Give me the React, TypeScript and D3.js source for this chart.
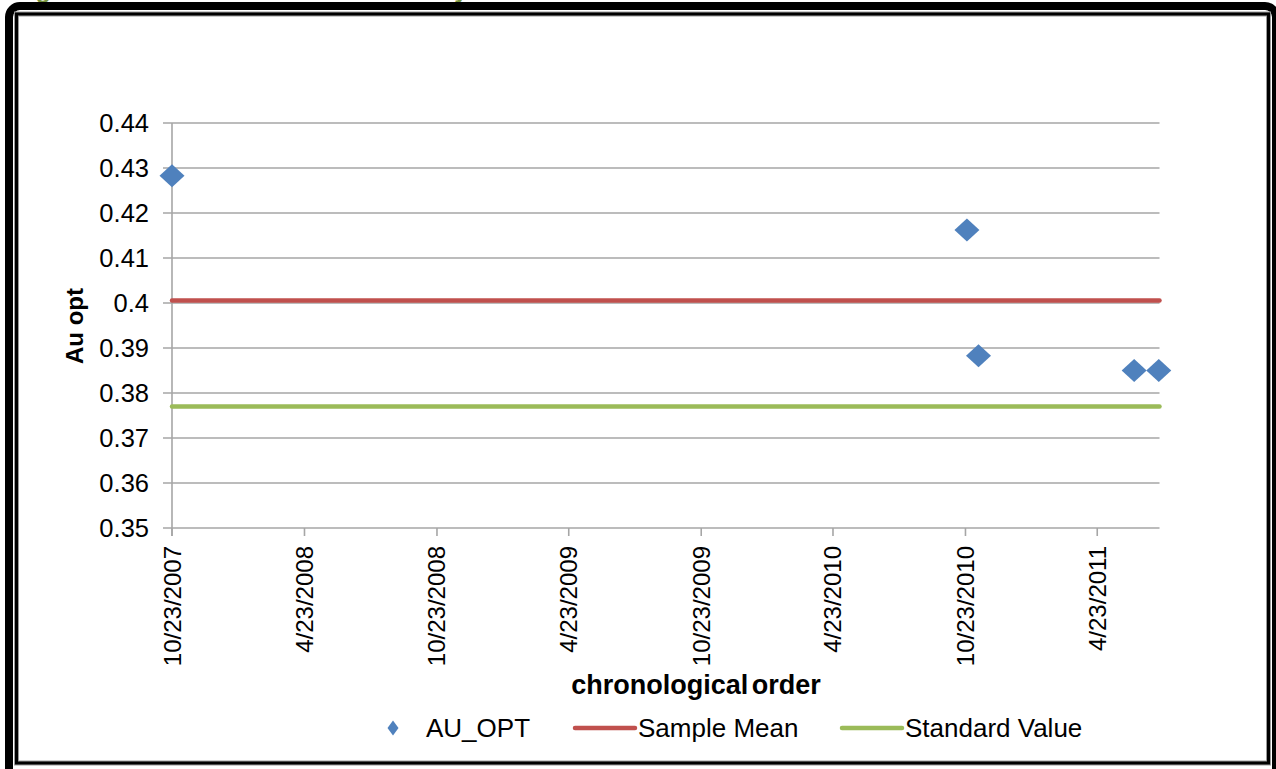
import React from "react";
import * as d3 from "d3";

// Au opt results in chronological order
const sampleDates = ["10/23/2007", "10/25/2010", "11/10/2010", "6/13/2011", "7/17/2011"];
const auOptValues = [0.4283, 0.4162, 0.3883, 0.385, 0.385];
const sampleMean = 0.40056;
const standardValue = 0.377;

const yTicks = [0.35, 0.36, 0.37, 0.38, 0.39, 0.4, 0.41, 0.42, 0.43, 0.44];
const xTickLabels = [
  "10/23/2007",
  "4/23/2008",
  "10/23/2008",
  "4/23/2009",
  "10/23/2009",
  "4/23/2010",
  "10/23/2010",
  "4/23/2011",
];
const xDomainLabels = ["10/23/2007", "7/18/2011"];

const legendItems = [
  { key: "AU_OPT", label: "AU_OPT", kind: "marker" },
  { key: "mean", label: "Sample Mean", kind: "line" },
  { key: "std", label: "Standard Value", kind: "line" },
];

const W = 1276;
const H = 769;
const FONT = "'Liberation Sans', Arial, Helvetica, sans-serif";
const BLUE = "#4F81BD";
const RED = "#C0504D";
const GREEN = "#9BBB59";
const GRID = "#A6A6A6";

const parse = d3.timeParse("%m/%d/%Y");
const fmt = d3.timeFormat("%-m/%-d/%Y");

const diamond = (hw: number, hh: number) =>
  `M0,${-hh}L${hw},0L0,${hh}L${-hw},0Z`;

export default function App() {
  const plotLeft = 172;
  const plotRight = 1159.5;
  const plotTop = 123;
  const plotBottom = 528;

  const x = d3
    .scaleTime()
    .domain(xDomainLabels.map((d) => parse(d) as Date))
    .range([plotLeft, plotRight]);
  const y = d3.scaleLinear().domain([0.35, 0.44]).range([plotBottom, plotTop]);

  const points = sampleDates.map((d, i) => ({ date: parse(d) as Date, v: auOptValues[i] }));
  const tickDates = xTickLabels.map((d) => parse(d) as Date);

  const hLine = (v: number) =>
    d3.line<number>().x((d) => d).y(() => y(v))([plotLeft, plotRight]) as string;

  const legendX: Record<string, number> = { AU_OPT: 393, mean: 575, std: 842 };
  const legendY = 728;

  return (
    <svg
      width={W}
      height={H}
      viewBox={`0 0 ${W} ${H}`}
      style={{ position: "absolute", left: 0, top: 0, background: "#fff" }}
      fontFamily={FONT}
    >
      {/* caption above the frame */}
      <text x={14} y={-2} fill="#77933C" fontWeight="bold" fontSize={24.5}>
        Figure 5: Control Chart of Au Recovery
      </text>

      {/* double frame */}
      <rect x={9} y={6} width={1267} height={775} rx={11} ry={11} fill="none" stroke="#000" strokeWidth={8} />
      <rect x={16.5} y={14} width={1252} height={749} fill="none" stroke="#9a9a9a" strokeWidth={5} />
      <rect x={16.5} y={14} width={1252} height={749} fill="none" stroke="#000" strokeWidth={3} />

      {/* horizontal gridlines with outside ticks */}
      <g>
        {yTicks.map((t) => (
          <line
            key={t}
            x1={plotLeft - 9}
            x2={plotRight}
            y1={y(t)}
            y2={y(t)}
            stroke={GRID}
            strokeWidth={1.6}
          />
        ))}
      </g>

      {/* y axis line */}
      <line x1={plotLeft} x2={plotLeft} y1={plotTop} y2={plotBottom + 8} stroke={GRID} strokeWidth={1.6} />

      {/* x tick marks */}
      {tickDates.map((d, i) => (
        <line key={i} x1={x(d)} x2={x(d)} y1={plotBottom} y2={plotBottom + 8} stroke={GRID} strokeWidth={1.6} />
      ))}

      {/* y tick labels */}
      {yTicks.map((t) => (
        <text
          key={t}
          x={149}
          y={y(t)}
          dy="0.36em"
          textAnchor="end"
          fontSize={25.5}
          fill="#000"
        >
          {d3.format("")(+t.toFixed(2))}
        </text>
      ))}

      {/* x tick labels, rotated */}
      {tickDates.map((d, i) => (
        <text
          key={i}
          transform={`translate(${x(d) + 8.5},${546}) rotate(-90)`}
          textAnchor="end"
          fontSize={24}
          fill="#000"
        >
          {fmt(d)}
        </text>
      ))}

      {/* reference lines */}
      <path d={hLine(sampleMean)} stroke={RED} strokeWidth={4.5} strokeLinecap="round" fill="none" />
      <path d={hLine(standardValue)} stroke={GREEN} strokeWidth={4.5} strokeLinecap="round" fill="none" />

      {/* AU_OPT markers */}
      {points.map((p, i) => (
        <path
          key={i}
          transform={`translate(${x(p.date)},${y(p.v)})`}
          d={diamond(12.5, 11.5)}
          fill={BLUE}
        />
      ))}

      {/* axis titles */}
      <text
        x={696}
        y={694}
        textAnchor="middle"
        fontWeight="bold"
        fontSize={27}
        wordSpacing={-4}
        fill="#000"
      >
        chronological order
      </text>
      <text
        transform={`translate(83,326) rotate(-90)`}
        textAnchor="middle"
        fontWeight="bold"
        fontSize={24}
        fill="#000"
      >
        Au opt
      </text>

      {/* legend */}
      {legendItems.map((it) => {
        const lx = legendX[it.key];
        if (it.kind === "marker") {
          return (
            <g key={it.key}>
              <path transform={`translate(${lx},${legendY})`} d={diamond(5.5, 7.5)} fill={BLUE} />
              <text x={lx + 33} y={legendY} dy="0.36em" fontSize={26} fill="#000">
                {it.label}
              </text>
            </g>
          );
        }
        const color = it.key === "mean" ? RED : GREEN;
        return (
          <g key={it.key}>
            <line x1={lx} x2={lx + 60} y1={legendY} y2={legendY} stroke={color} strokeWidth={4.5} strokeLinecap="round" />
            <text x={lx + 63} y={legendY} dy="0.36em" fontSize={26} fill="#000">
              {it.label}
            </text>
          </g>
        );
      })}
    </svg>
  );
}
